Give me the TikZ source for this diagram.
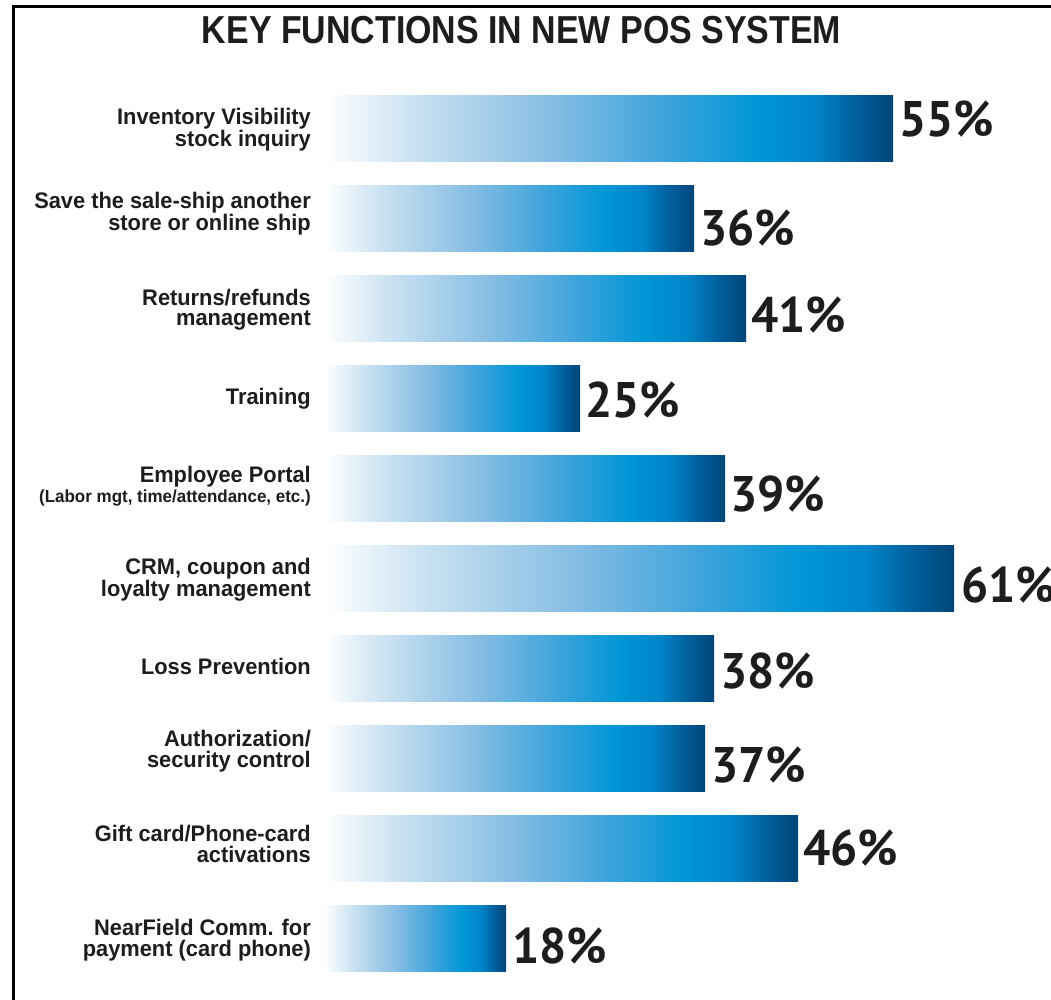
\documentclass[tikz,border=0pt]{standalone}
\usepackage{fontspec}
\setmainfont{Liberation Sans}
\newfontfamily\titlefont[FakeStretch=0.87]{Liberation Sans}
\newfontfamily\labfont[FakeStretch=0.97]{Liberation Sans}
\newfontfamily\pctfont[FakeStretch=0.96]{PT Sans}
\definecolor{inkc}{HTML}{1E1C1D}
\pgfdeclarehorizontalshading{barshade}{100bp}{%
  rgb(0bp)=(1,1,1); rgb(25bp)=(1,1,1);
  rgb(32.5bp)=(0.80,0.89,0.95);
  rgb(45bp)=(0.52,0.74,0.89);
  rgb(55bp)=(0.24,0.64,0.86);
  rgb(63bp)=(0.0,0.59,0.84);
  rgb(68bp)=(0.0,0.52,0.79);
  rgb(71.5bp)=(0.0,0.38,0.62);
  rgb(75bp)=(0.0,0.27,0.47);
  rgb(100bp)=(0.0,0.27,0.47)}
\begin{document}
\begin{tikzpicture}[x=1pt,y=-1pt,
  barbox/.style={rectangle, inner sep=0pt, minimum height=66pt, shade, shading=barshade, anchor=west},
  lab/.style={anchor=east, align=right, inner sep=0pt, text=inkc, font=\labfont\bfseries\fontsize{22.5}{20.5}\selectfont},
  pct/.style={anchor=base west, inner sep=0pt, text=inkc, font=\pctfont\bfseries\fontsize{50}{50}\selectfont},
  frameline/.style={line width=2.6pt, black}]
\useasboundingbox (0,0) rectangle (1051,1000);
\fill[white] (0,0) rectangle (1051,1000);
% frame
\coordinate (fc) at (13.5,6.5);
\coordinate (ftr) at (1051,6.5);
\coordinate (fbl) at (13.5,1000);
\draw[frameline] (fbl) -- (fc) -- (ftr);
% title
\node[anchor=base, inner sep=0pt, text=inkc, font=\titlefont\bfseries\fontsize{39}{39}\selectfont] (title) at (521.5,44) {KEY FUNCTIONS IN NEW POS SYSTEM};
% bars
\node[barbox, minimum width=569pt] (b1) at (324,128.5) {};
\node[barbox, minimum width=370pt] (b2) at (324,218.5) {};
\node[barbox, minimum width=422pt] (b3) at (324,308.5) {};
\node[barbox, minimum width=256pt] (b4) at (324,398.5) {};
\node[barbox, minimum width=401pt] (b5) at (324,488.5) {};
\node[barbox, minimum width=630pt] (b6) at (324,578.5) {};
\node[barbox, minimum width=390pt] (b7) at (324,668.5) {};
\node[barbox, minimum width=381pt] (b8) at (324,758.5) {};
\node[barbox, minimum width=474pt] (b9) at (324,848.5) {};
\node[barbox, minimum width=182pt] (b10) at (324,938.5) {};
% labels
\node[lab] (l1) at (311,129.5) {Inventory Visibility\\stock inquiry};
\node[lab] (l2) at (311,214) {Save the sale-ship another\\store or online ship};
\node[lab] (l3) at (311,309.5) {Returns/refunds\\management};
\node[lab] (l4) at (311,398.5) {Training};
\node[lab] (l5) at (311,486) {Employee Portal\\\fontsize{17.5}{21}\selectfont(Labor mgt, time/attendance, etc.)};
\node[lab] (l6) at (311,579.5) {CRM, coupon and\\loyalty management};
\node[lab] (l7) at (311,666) {Loss Prevention};
\node[lab] (l8) at (311,751) {Authorization/\\security control};
\node[lab] (l9) at (311,844) {Gift card/Phone-card\\activations};
\node[lab] (l10) at (311,940) {NearField Comm. for\\payment (card phone)};
% values
\node[pct] (p1) at (899,137) {55\%};
\node[pct] (p2) at (700,245) {36\%};
\node[pct] (p3) at (751,332) {41\%};
\node[pct] (p4) at (585,417) {25\%};
\node[pct] (p5) at (730,511) {39\%};
\node[pct] (p6) at (961,602) {61\%};
\node[pct] (p7) at (720,688) {38\%};
\node[pct] (p8) at (711,782) {37\%};
\node[pct] (p9) at (803,865) {46\%};
\node[pct] (p10) at (512,963) {18\%};
\end{tikzpicture}
\end{document}
